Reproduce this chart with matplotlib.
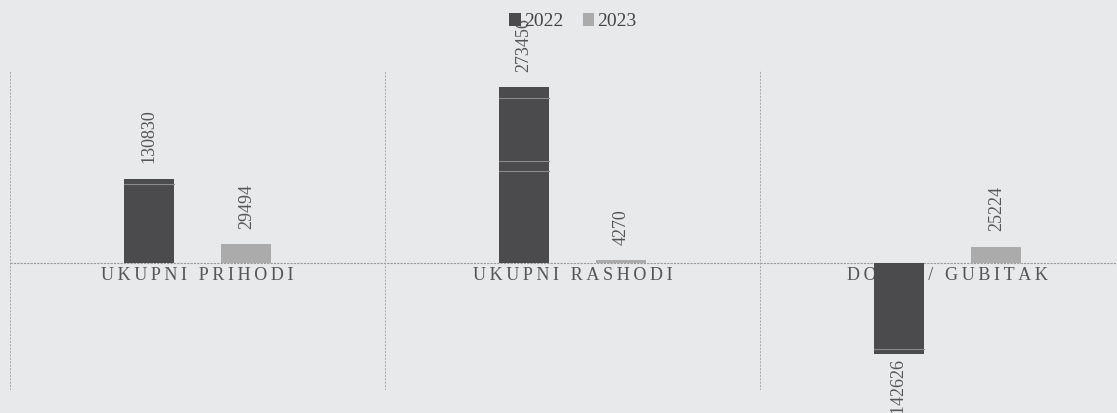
import numpy as np
import matplotlib
matplotlib.use('Agg')
import matplotlib.pyplot as plt

# Chart data
categories = ['UKUPNI PRIHODI', 'UKUPNI RASHODI', 'DOBIT / GUBITAK']
series_names = ['2022', '2023']
values_2022 = [130830, 273456, -142626]
values_2023 = [29494, 4270, 25224]

BG = '#e7e9eb'
DARK = '#4b4b4d'
LIGHT = '#ababab'
TEXT = '#555555'
SERIF = ['Liberation Serif', 'DejaVu Serif']

plt.rcParams['font.family'] = SERIF

fig = plt.figure(figsize=(11.17, 4.13), dpi=100, facecolor=BG)
# axes extends a little past the right edge (the scan is cropped there)
ax = fig.add_axes([10 / 1117, 23 / 413, 1125 / 1117, 320 / 413])
ax.set_facecolor(BG)

x = np.arange(len(categories))
offset = 0.13
width = 0.133

bars1 = ax.bar(x - offset, values_2022, width, color=DARK, zorder=3, label=series_names[0])
bars2 = ax.bar(x + offset, values_2023, width, color=LIGHT, zorder=3, label=series_names[1])

# faint scan streaks on the dark bars
for b in bars1:
    h = b.get_height()
    for frac in (0.06, 0.42, 0.48):
        if abs(h) > 200000 or frac == 0.06:
            yy = h * (1 - frac)
            ax.plot([b.get_x(), b.get_x() + b.get_width()], [yy, yy],
                    color='#8a8a8a', lw=0.8, zorder=4)

# value labels (rotated)
for bars, vals in ((bars1, values_2022), (bars2, values_2023)):
    for b, v in zip(bars, vals):
        cx = b.get_x() + b.get_width() / 2
        if v >= 0:
            ax.annotate(f'{v}', (cx, v), xytext=(0, 11), textcoords='offset points',
                        rotation=90, ha='center', va='bottom', fontsize=13,
                        color=TEXT, zorder=6)
        else:
            ax.annotate(f'{v}', (cx, v), xytext=(0, -3), textcoords='offset points',
                        rotation=90, ha='center', va='top', fontsize=13,
                        color=TEXT, zorder=6)

# category labels just under the zero line (drawn beneath the bars)
thin = '\u2009'
for xi, cat in zip(x, categories):
    ax.text(xi, -7000, thin.join(cat), ha='center', va='top', fontsize=13,
            color=TEXT, zorder=2)

ax.set_xlim(-0.5, 2.5)
ax.set_ylim(-198000, 300000)
ax.axhline(0, color='#9a9a9a', lw=0.8, ls=(0, (2, 1)), zorder=1)
for xv in (-0.5, 0.5, 1.5):
    ax.axvline(xv, color='#a5a5a5', lw=0.7, ls=(0, (2, 1.5)), zorder=1)

ax.set_xticks([])
ax.set_yticks([])
for s in ax.spines.values():
    s.set_visible(False)

leg = fig.legend(loc='upper center', bbox_to_anchor=(0.513, 1.01), ncol=2,
                 frameon=False, fontsize=14, handlelength=0.6, handleheight=0.6,
                 handletextpad=0.15, columnspacing=1.0, labelcolor='#444444')

fig.savefig('out.png', dpi=100, facecolor=BG)
